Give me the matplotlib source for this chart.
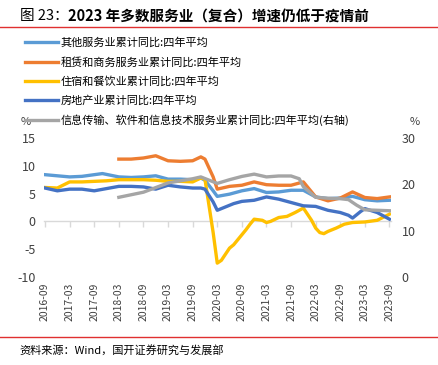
"""图23：2023年多数服务业（复合）增速仍低于疫情前"""
import matplotlib

matplotlib.use("Agg")
import matplotlib.pyplot as plt
import pandas as pd

plt.rcParams["font.family"] = ["Noto Sans CJK SC", "DejaVu Sans"]
plt.rcParams["axes.unicode_minus"] = False

# 其他服务业累计同比:四年平均 (%)
other_dates = ["2016-09", "2016-12", "2017-03", "2017-06", "2017-09", "2017-11",
               "2018-03", "2018-06", "2018-09", "2018-12", "2019-03", "2019-06",
               "2019-09", "2019-11", "2019-12", "2020-02", "2020-03", "2020-06",
               "2020-09", "2020-12", "2021-03", "2021-06", "2021-09", "2021-12",
               "2022-03", "2022-06", "2022-09", "2022-12", "2023-03", "2023-06",
               "2023-09"]
other_vals = [8.4, 8.2, 8.0, 8.1, 8.4, 8.6,
              8.0, 7.9, 8.0, 8.2, 7.6, 7.6,
              7.5, 7.8, 7.4, 5.5, 4.5, 4.9,
              5.5, 5.9, 5.2, 5.3, 5.6, 5.6,
              4.4, 4.1, 4.2, 4.5, 3.9, 3.7,
              3.8]

# 租赁和商务服务业累计同比:四年平均 (%)
lease_dates = ["2018-03", "2018-06", "2018-09", "2018-12", "2019-03", "2019-06",
               "2019-09", "2019-11", "2019-12", "2020-02", "2020-03", "2020-06",
               "2020-09", "2020-12", "2021-03", "2021-06", "2021-09", "2021-12",
               "2022-03", "2022-06", "2022-09", "2022-12", "2023-03", "2023-06",
               "2023-09"]
lease_vals = [11.2, 11.2, 11.4, 11.8, 10.9, 10.8,
              10.9, 11.6, 11.2, 8.0, 5.8, 6.3,
              6.5, 7.1, 6.6, 6.5, 6.5, 7.1,
              4.4, 3.7, 4.2, 5.3, 4.3, 4.1,
              4.4]

# 住宿和餐饮业累计同比:四年平均 (%)
hotel_dates = ["2016-09", "2016-12", "2017-03", "2017-06", "2017-09", "2017-12",
               "2018-03", "2018-06", "2018-09", "2018-12", "2019-03", "2019-06",
               "2019-09", "2019-11", "2019-12", "2020-02", "2020-03", "2020-04",
               "2020-06", "2020-07", "2020-08", "2020-09", "2020-10", "2020-11",
               "2020-12", "2021-02", "2021-03", "2021-04", "2021-06", "2021-08",
               "2021-10", "2021-12", "2022-02", "2022-03", "2022-04", "2022-05",
               "2022-06", "2022-08", "2022-10", "2022-12", "2023-03", "2023-06",
               "2023-09"]
hotel_vals = [6.1, 6.0, 7.1, 7.1, 7.2, 7.3,
              7.5, 7.5, 7.5, 7.4, 7.2, 7.2,
              7.1, 7.8, 7.6, -2.0, -7.5, -7.0,
              -4.8, -4.2, -3.3, -2.4, -1.5, -0.5,
              0.4, 0.2, -0.2, 0.0, 0.7, 0.9,
              1.6, 2.4, 0.2, -1.2, -2.0, -2.2,
              -1.8, -1.2, -0.5, -0.2, -0.1, 0.2,
              1.3]

# 房地产业累计同比:四年平均 (%)
estate_dates = ["2016-09", "2016-12", "2017-03", "2017-06", "2017-09", "2017-12",
                "2018-03", "2018-06", "2018-09", "2018-12", "2019-03", "2019-06",
                "2019-09", "2019-11", "2019-12", "2020-02", "2020-03", "2020-05",
                "2020-07", "2020-09", "2020-12", "2021-03", "2021-06", "2021-09",
                "2021-12", "2022-03", "2022-06", "2022-09", "2022-11", "2022-12",
                "2023-02", "2023-03", "2023-06", "2023-09"]
estate_vals = [6.0, 5.5, 5.8, 5.8, 5.5, 5.9,
               6.3, 6.3, 6.2, 5.8, 6.5, 6.2,
               6.0, 6.0, 5.8, 3.5, 2.0, 2.6,
               3.2, 3.6, 3.8, 4.4, 4.0, 3.4,
               2.8, 2.7, 2.0, 1.6, 1.1, 0.6,
               1.8, 2.3, 1.6, 0.4]

# 信息传输、软件和信息技术服务业累计同比:四年平均（右轴） (%)
info_dates = ["2018-03", "2018-09", "2019-03", "2019-09", "2019-11", "2020-03",
              "2020-06", "2020-09", "2020-12", "2021-03", "2021-06", "2021-09",
              "2021-11", "2021-12", "2022-03", "2022-06", "2022-09", "2022-11",
              "2023-01", "2023-03", "2023-06", "2023-09"]
info_vals = [17.2, 18.3, 20.3, 21.2, 21.6, 20.2,
             21.0, 21.7, 22.2, 21.6, 21.8, 21.8,
             21.2, 19.5, 17.2, 17.0, 16.9, 16.7,
             15.5, 14.5, 14.4, 14.3]

tick_labels = ["2016-09", "2017-03", "2017-09", "2018-03", "2018-09", "2019-03",
               "2019-09", "2020-03", "2020-09", "2021-03", "2021-09", "2022-03",
               "2022-09", "2023-03", "2023-09"]


def month_index(dates):
    p = pd.PeriodIndex(dates, freq="M")
    return [(d.year - 2016) * 12 + d.month - 9 for d in p]


fig = plt.figure(figsize=(4.38, 3.65), dpi=100)
ax = fig.add_axes([0.1, 0.241, 0.792, 0.381])
ax2 = ax.twinx()

lw = 2.4
l1, = ax.plot(month_index(other_dates), other_vals, color="#5B9BD5", lw=lw,
              label="其他服务业累计同比:四年平均")
l2, = ax.plot(month_index(lease_dates), lease_vals, color="#ED7D31", lw=lw,
              label="租赁和商务服务业累计同比:四年平均")
l3, = ax.plot(month_index(hotel_dates), hotel_vals, color="#FFC000", lw=lw,
              label="住宿和餐饮业累计同比:四年平均")
l4, = ax.plot(month_index(estate_dates), estate_vals, color="#4472C4", lw=lw,
              label="房地产业累计同比:四年平均")
l5, = ax2.plot(month_index(info_dates), info_vals, color="#A5A5A5", lw=lw,
               label="信息传输、软件和信息技术服务业累计同比:四年平均(右轴)")

ax.set_xlim(-0.3, 84.3)
ax.set_ylim(-10, 15)
ax.set_yticks([-10, -5, 0, 5, 10, 15])
ax2.set_ylim(0, 30)
ax2.set_yticks([0, 10, 20, 30])

ticks = month_index(tick_labels)
ax.set_xticks(ticks)
ax.set_xticklabels(tick_labels, rotation=90)
ax.tick_params(axis="x", length=0, pad=4, labelsize=7.5, colors="#404040")
ax.tick_params(axis="y", length=0, pad=6, labelsize=9, colors="#404040")
ax2.tick_params(axis="y", length=0, pad=8, labelsize=9, colors="#404040")
for a in (ax, ax2):
    for s in a.spines.values():
        s.set_visible(False)

# zero line with tick marks
zero = ax.secondary_xaxis(0.4)
zero.set_xticks(ticks)
zero.tick_params(length=4, color="#D9D9D9", labelbottom=False, width=1)
zero.spines["bottom"].set_color("#D9D9D9")
zero.spines["bottom"].set_linewidth(1)

fig.text(0.046, 0.658, "%", fontsize=8, color="#404040")
fig.text(0.935, 0.658, "%", fontsize=8, color="#404040")

fig.legend(handles=[l1, l2, l3, l4, l5], loc="upper left",
           bbox_to_anchor=(0.058, 0.897), frameon=False, fontsize=8,
           handlelength=2.9, handletextpad=0.3, labelspacing=0.78,
           borderaxespad=0, borderpad=0)

# title: plain figure number, bold headline right after it
t1 = fig.text(0.045, 0.955, "图 23：", fontsize=10.5, va="center")
fig.add_artist(plt.Annotation("2023 年多数服务业（复合）增速仍低于疫情前",
                              xy=(1, 0.5), xycoords=t1, va="center",
                              fontsize=10.5, fontweight="bold"))
fig.add_artist(plt.Line2D([0, 1], [0.925, 0.925], color="#E03030", lw=1))
fig.add_artist(plt.Line2D([0, 1], [0.077, 0.077], color="#E03030", lw=1))
fig.text(0.045, 0.04, "资料来源：Wind，国开证券研究与发展部", fontsize=8,
         va="center")

fig.savefig("out.png", dpi=100)
